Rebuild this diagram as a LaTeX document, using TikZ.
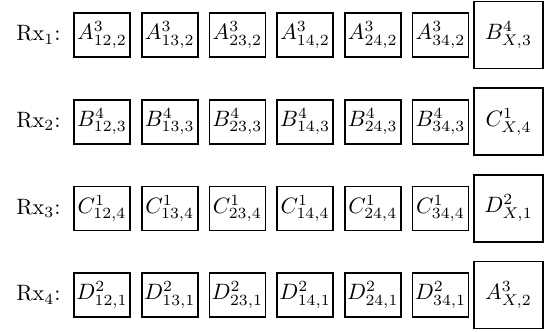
\documentclass[tikz,border=0pt]{standalone}
\begin{document}
\begin{tikzpicture}[x=0.45pt,y=-0.45pt,
  sbox/.style={draw,line width=0.75pt,minimum width=25.2pt,minimum height=19.8pt,inner sep=0pt},
  bbox/.style={draw,line width=0.75pt,minimum width=31pt,minimum height=30.2pt,inner sep=0pt},
  rxlab/.style={anchor=east,inner sep=0pt}]
\useasboundingbox (0,0) rectangle (546,332);
\foreach \r/\L/\a/\s/\B/\b/\bb [count=\i] in {1/A/3/2/B/4/3, 2/B/4/3/C/1/4, 3/C/1/4/D/2/1, 4/D/2/1/A/3/2}{
  \pgfmathsetmacro{\yy}{35+(\i-1)*86.67}
  \node[rxlab] (l\i) at (61,\yy) {Rx$_{\r}$:};
  \foreach \p [count=\j] in {12,13,23,14,24,34}{
    \pgfmathsetmacro{\xx}{102+(\j-1)*67.7}
    \node[sbox] (r\i c\j) at (\xx,\yy) {$\L^{\a}_{\p,\s}$};
  }
  \node[bbox] (r\i b) at (508.5,\yy) {$\B^{\b}_{X,\bb}$};
}
\end{tikzpicture}
\end{document}
